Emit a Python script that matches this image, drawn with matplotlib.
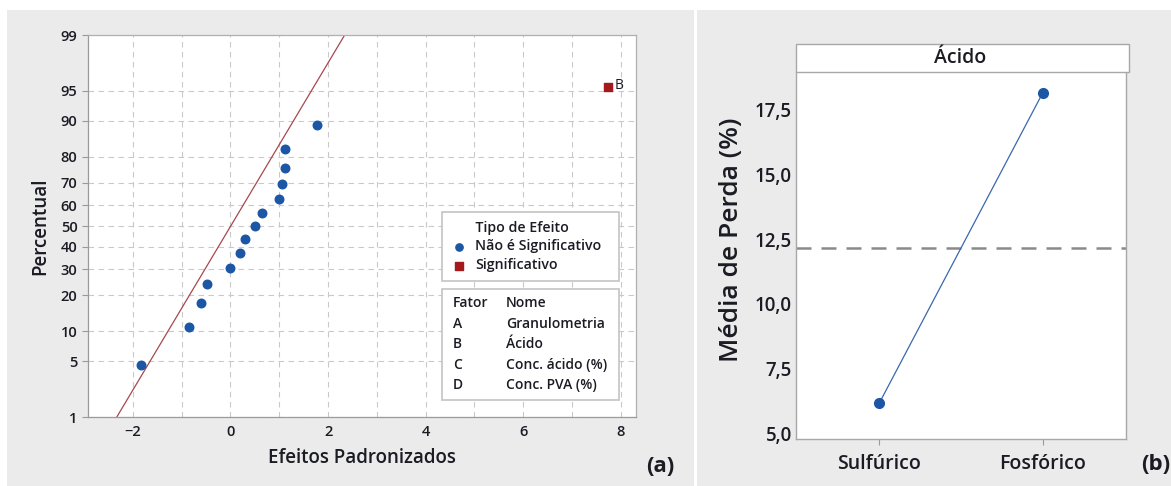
from statistics import NormalDist
import matplotlib
matplotlib.use("Agg")
import matplotlib.pyplot as plt
from matplotlib.patches import Rectangle

plt.rcParams['font.family'] = ['Open Sans', 'DejaVu Sans']

# (a) normal plot of standardized effects
effects_ns = [-1.84, -0.84, -0.60, -0.48, 0.00, 0.20, 0.30, 0.51, 0.64, 1.00, 1.05, 1.11, 1.11, 1.77]
pct_ns = [4.5, 11.0, 17.5, 24.0, 30.5, 37.0, 43.5, 50.0, 56.5, 63.0, 69.5, 76.0, 82.5, 89.0]
effects_sig = [7.73]
pct_sig = [95.5]
labels_sig = ["B"]
line_x = [-2.33, 2.34]
line_pct = [1, 99]
pct_ticks = [1, 5, 10, 20, 30, 40, 50, 60, 70, 80, 90, 95, 99]
factor_codes = ["A", "B", "C", "D"]
factor_names = ["Granulometria", "Ácido", "Conc. ácido (%)", "Conc. PVA (%)"]

# (b) main effect plot
levels = ["Sulfúrico", "Fosfórico"]
means = [6.16, 18.16]
grand_mean = 12.16

W, H = 1171, 486
fig = plt.figure(figsize=(W / 100, H / 100), dpi=100, facecolor="white")


def fx(px):
    return px / W


def fy(py):
    return 1 - py / H


def box(x0, y0, x1, y1, **kw):
    return Rectangle((fx(x0), fy(y1)), fx(x1) - fx(x0), fy(y0) - fy(y1),
                     transform=fig.transFigure, **kw)


bg = "#ebebeb"
fig.add_artist(box(7, 10, 694, 486, facecolor=bg, edgecolor="none", zorder=0))
fig.add_artist(box(697, 10, 1171, 486, facecolor=bg, edgecolor="none", zorder=0))

z = NormalDist().inv_cdf
blue = "#1c57a5"
red = "#a3191c"
txt = "#1b1b24"
spine_c = "#9a9a9a"
grid_c = "#c9c9c9"

# ---- left panel
ax = fig.add_axes([fx(88), fy(417), fx(636) - fx(88), fy(35) - fy(417)])
ax.set_xlim(-2.92, 8.31)
ax.set_ylim(z(0.01), z(0.99))
ax.set_xticks([-2, 0, 2, 4, 6, 8])
ax.set_xticks(range(-2, 9), minor=True)
ax.set_yticks([z(p / 100) for p in pct_ticks])
ax.set_yticklabels([str(p) for p in pct_ticks])
ax.tick_params(axis="both", labelsize=10.5, colors=spine_c, labelcolor=txt, length=4, width=0.8)
ax.tick_params(axis="x", which="minor", length=0)
ax.tick_params(axis="x", length=0, pad=6)
for lab in ax.get_xticklabels() + ax.get_yticklabels():
    lab.set_fontweight("semibold")
ax.grid(True, which="both", axis="x", color=grid_c, linestyle=(0, (5, 4)), linewidth=0.8)
ax.grid(True, which="major", axis="y", color=grid_c, linestyle=(0, (5, 4)), linewidth=0.8)
ax.set_axisbelow(True)
for s in ax.spines.values():
    s.set_color("#b0b0b0")
    s.set_linewidth(0.9)
ax.spines["left"].set_color(spine_c)
ax.spines["bottom"].set_color(spine_c)

ax.plot(line_x, [z(p / 100) for p in line_pct], color="#a8474f", linewidth=0.9, zorder=2)
ax.scatter(effects_ns, [z(p / 100) for p in pct_ns], s=38, color=blue, marker="o",
           zorder=3, label="Não é Significativo")
ax.scatter(effects_sig, [z(p / 100) for p in pct_sig], s=36, color=red, marker="s",
           zorder=3, label="Significativo")
for xv, pv, lb in zip(effects_sig, pct_sig, labels_sig):
    ax.annotate(lb, (xv, z(pv / 100)), xytext=(5, 1), textcoords="offset points",
                fontsize=10, color=txt, va="center")

ax.set_xlabel("Efeitos Padronizados", fontsize=13.5, fontweight="semibold", color=txt, labelpad=6)
ax.set_ylabel("Percentual", fontsize=13.5, fontweight="semibold", color=txt)
ax.yaxis.set_label_coords((50 - 88) / 548, (417 - 226) / 382)

leg = ax.legend(title="       Tipo de Efeito", loc="upper left", alignment="left",
                bbox_to_anchor=(fx(442), fy(212), fx(619) - fx(442), 0),
                bbox_transform=fig.transFigure, mode="expand", borderaxespad=0,
                fancybox=False, framealpha=1, edgecolor="#c4c4c4",
                fontsize=10.2, title_fontsize=10.2, handletextpad=0.55,
                borderpad=0.6, labelspacing=0.35, handlelength=1.2, markerscale=0.85)
leg.get_title().set_fontweight("semibold")
leg.get_title().set_color(txt)
for t in leg.get_texts():
    t.set_fontweight("semibold")
    t.set_color(txt)
leg.get_frame().set_linewidth(1.2)

fig.add_artist(box(442, 289, 619, 400, facecolor="white", edgecolor="#c4c4c4",
                   linewidth=1.2, zorder=5))
fig.text(fx(453), fy(303), "Fator", fontsize=10, fontweight="semibold", color=txt,
         va="center", zorder=6)
fig.text(fx(506), fy(303), "Nome", fontsize=10, fontweight="semibold", color=txt,
         va="center", zorder=6)
for i, (c, n) in enumerate(zip(factor_codes, factor_names)):
    yy = 324 + i * 20.3
    fig.text(fx(453), fy(yy), c, fontsize=10, fontweight="semibold", color=txt,
             va="center", zorder=6)
    fig.text(fx(506), fy(yy), n, fontsize=10, fontweight="semibold", color=txt,
             va="center", zorder=6)

fig.text(fx(660), fy(466), "(a)", fontsize=16, fontweight="bold", color=txt,
         ha="center", va="center")

# ---- right panel
ax2 = fig.add_axes([fx(796), fy(439), fx(1126) - fx(796), fy(72) - fy(439)])
xs = list(range(1, len(levels) + 1))
ax2.plot(xs, means, color="#3a68ad", linewidth=0.9, marker="o", markersize=7,
         markerfacecolor=blue, markeredgecolor=blue, zorder=3)
ax2.axhline(grand_mean, color="#8a8a8a", linestyle=(0, (6, 4)), linewidth=1.8, zorder=2)
ax2.set_xlim(0.49, 2.51)
ax2.set_ylim(4.77, 18.97)
ax2.set_xticks(xs)
ax2.set_xticklabels(levels)
ax2.set_yticks([5.0, 7.5, 10.0, 12.5, 15.0, 17.5])
ax2.set_yticklabels(["5,0", "7,5", "10,0", "12,5", "15,0", "17,5"])
ax2.tick_params(axis="y", length=0, pad=3, labelsize=13.5, labelcolor=txt)
ax2.tick_params(axis="x", length=4, pad=7, labelsize=14, labelcolor=txt, colors=spine_c)
for lab in ax2.get_xticklabels() + ax2.get_yticklabels():
    lab.set_fontweight("semibold")
for s in ax2.spines.values():
    s.set_color("#a8a8a8")
    s.set_linewidth(1.0)
ax2.spines["top"].set_visible(False)
ax2.set_ylabel("Média de Perda (%)", fontsize=19, fontweight="semibold", color=txt)
ax2.yaxis.set_label_coords((744 - 796) / 330, (439 - 240) / 367)

fig.add_artist(box(796, 44, 1129, 72, facecolor="white", edgecolor="#a8a8a8",
                   linewidth=1.0, zorder=5))
fig.text(fx(960), fy(58), "Ácido", fontsize=14, fontweight="semibold", color=txt,
         ha="center", va="center", zorder=6)
fig.text(fx(1156), fy(464), "(b)", fontsize=16, fontweight="bold", color=txt,
         ha="center", va="center")

fig.savefig("out.png", dpi=100, facecolor="white")
